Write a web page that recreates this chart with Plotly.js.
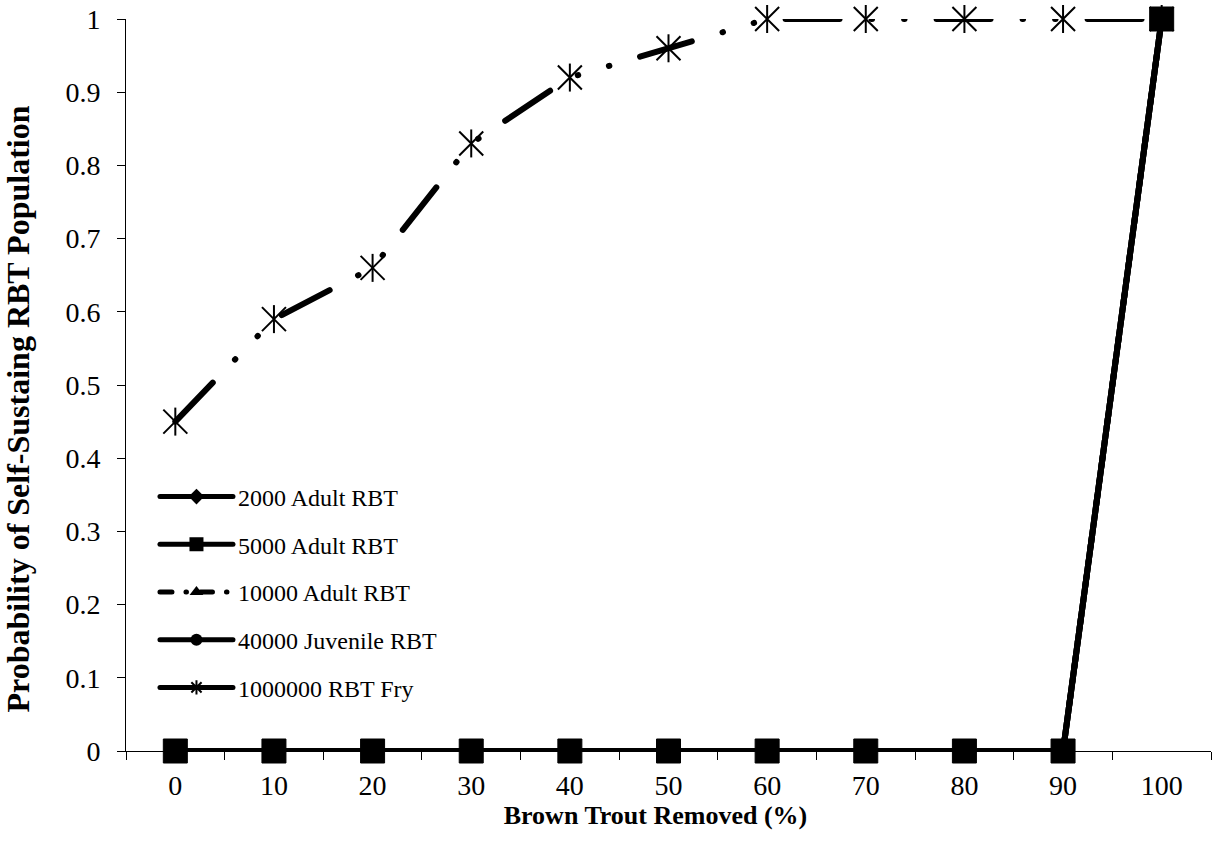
<!DOCTYPE html>
<html>
<head>
<meta charset="utf-8">
<script src="https://cdn.plot.ly/plotly-3.0.1.min.js"></script>
<style>
  html, body { margin: 0; padding: 0; background: #ffffff; }
  #chart { width: 1217px; height: 850px; }
  #chart path.js-line { stroke-linecap: round; stroke-linejoin: round; }
</style>
</head>
<body>
<div id="chart"></div>
<script>
// ---- data ----
const categories = ['0', '10', '20', '30', '40', '50', '60', '70', '80', '90', '100'];
const adult2000  = [0, 0, 0, 0, 0, 0, 0, 0, 0, 0, 1];
const adult5000  = [0, 0, 0, 0, 0, 0, 0, 0, 0, 0, 1];
const adult10000 = [0, 0, 0, 0, 0, 0, 0, 0, 0, 0, 1];
const juv40000   = [0, 0, 0, 0, 0, 0, 0, 0, 0, 0, 1];
const fry1000000 = [0.45, 0.59, 0.66, 0.83, 0.92, 0.96, 1, 1, 1, 1, 1];
const seriesNames = ['2000 Adult RBT', '5000 Adult RBT', '10000 Adult RBT', '40000 Juvenile RBT', '1000000 RBT Fry'];
const yTickVals = [0, 0.1, 0.2, 0.3, 0.4, 0.5, 0.6, 0.7, 0.8, 0.9, 1];
const yTickText = ['0', '0.1', '0.2', '0.3', '0.4', '0.5', '0.6', '0.7', '0.8', '0.9', '1'];
const xTitle = 'Brown Trout Removed (%)';
const yTitle = 'Probability of Self-Sustaing RBT Population';

const FONT = '"Liberation Serif", "Times New Roman", serif';
const BLACK = '#000000';

const traces = [
  {
    x: categories, y: adult2000, name: seriesNames[0], legendgroup: 'g1',
    mode: 'lines+markers', cliponaxis: false,
    line: { color: BLACK, width: 6 },
    marker: { symbol: 'diamond', size: 14, color: BLACK }
  },
  {
    x: categories, y: adult5000, name: seriesNames[1], legendgroup: 'g2',
    mode: 'lines+markers', cliponaxis: false,
    line: { color: BLACK, width: 6 },
    marker: { symbol: 'square', size: 24, color: BLACK, line: { color: BLACK, width: 1 } }
  },
  {
    x: categories, y: adult10000, name: seriesNames[2], legendgroup: 'g3',
    mode: 'lines+markers', cliponaxis: false,
    line: { color: BLACK, width: 6, dash: '12px,14px,0.5px,14px' },
    marker: { symbol: 'triangle-up', size: 14, color: BLACK }
  },
  {
    x: categories, y: juv40000, name: seriesNames[3], legendgroup: 'g4',
    mode: 'lines+markers', cliponaxis: false,
    line: { color: BLACK, width: 6 },
    marker: { symbol: 'circle', size: 14, color: BLACK }
  },
  // Fry curve as drawn in the plot (long dash - dot - dot pattern)
  {
    x: categories, y: fry1000000, name: seriesNames[4], legendgroup: 'g5', showlegend: false,
    mode: 'lines+markers', cliponaxis: false,
    line: { color: BLACK, width: 6, dash: '54px,32px,0.5px,32px,0.5px,32px' },
    marker: { symbol: 'x-thin-open', size: 24, color: BLACK, line: { color: BLACK, width: 2 } }
  },
  // vertical stroke of the asterisk marker
  {
    x: categories, y: fry1000000, name: seriesNames[4], legendgroup: 'g5', showlegend: false,
    mode: 'markers', cliponaxis: false, hoverinfo: 'skip',
    marker: { symbol: 'line-ns-open', size: 20, color: BLACK, line: { color: BLACK, width: 2 } }
  },
  // legend entry for the Fry series (solid line + asterisk, as in the reference legend)
  {
    x: [null], y: [null], name: seriesNames[4], legendgroup: 'g5',
    mode: 'lines+markers',
    line: { color: BLACK, width: 6 },
    marker: { symbol: 'asterisk-open', size: 10, color: BLACK, line: { color: BLACK, width: 1.5 } }
  }
];

const layout = {
  width: 1217, height: 850,
  paper_bgcolor: '#ffffff', plot_bgcolor: '#ffffff',
  margin: { l: 126, r: 6, t: 19, b: 99, pad: 0 },
  font: { family: FONT, color: BLACK, size: 24 },
  showlegend: true,
  legend: {
    x: 0.0267, y: 0.3777, xanchor: 'left', yanchor: 'top',
    bgcolor: 'rgba(0,0,0,0)', borderwidth: 0,
    font: { family: FONT, size: 24, color: BLACK },
    traceorder: 'grouped', tracegroupgap: 13.5,
    itemsizing: 'constant', itemwidth: 73
  },
  xaxis: {
    type: 'category',
    range: [-0.5, 10.5],
    tickson: 'boundaries',
    ticks: 'outside', ticklen: 8, tickwidth: 1, tickcolor: BLACK,
    ticklabelstandoff: 9,
    showline: true, linecolor: BLACK, linewidth: 1,
    showgrid: false, zeroline: false,
    tickfont: { family: FONT, size: 28, color: BLACK },
    title: { text: '<b>' + xTitle + '&nbsp;&nbsp;&nbsp;&nbsp;</b>', font: { family: FONT, size: 26, color: BLACK }, standoff: 0 },
    fixedrange: true
  },
  yaxis: {
    range: [0, 1],
    tickmode: 'array', tickvals: yTickVals, ticktext: yTickText,
    ticks: 'outside', ticklen: 8, tickwidth: 1, tickcolor: BLACK,
    ticklabelstandoff: 11,
    showline: true, linecolor: BLACK, linewidth: 1,
    showgrid: false, zeroline: false,
    tickfont: { family: FONT, size: 28, color: BLACK },
    title: { text: '<b>' + yTitle + '&nbsp;&nbsp;&nbsp;&nbsp;&nbsp;&nbsp;</b>', font: { family: FONT, size: 32, color: BLACK }, standoff: 35 },
    fixedrange: true
  }
};

Plotly.newPlot('chart', traces, layout, { staticPlot: true, displayModeBar: false });
</script>
</body>
</html>
